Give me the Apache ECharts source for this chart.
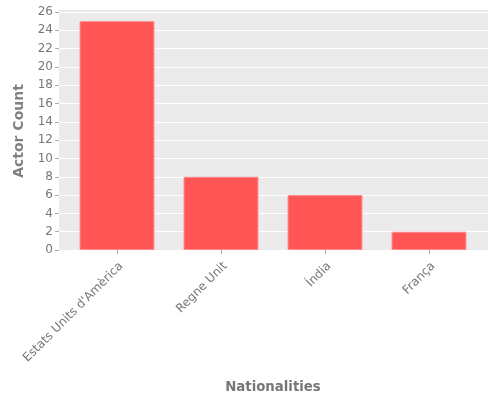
<!DOCTYPE html>
<html><head><meta charset="utf-8">
<script src="https://cdn.jsdelivr.net/npm/echarts@6/dist/echarts.min.js"></script>
<style>html,body{margin:0;padding:0;background:#fff}#c{width:500px;height:400px}</style>
</head><body><div id="c"></div>
<script>
const categories = ["Estats Units d'Amèrica", "Regne Unit", "Índia", "França"];
const actorCounts = [25, 8, 6, 2];
const yTicks = { min: 0, max: 26, interval: 2 };
const chart = echarts.init(document.getElementById('c'));
chart.setOption({
  animation: false,
  textStyle: { fontFamily: 'DejaVu Sans' },
  grid: [
    { left: 59, right: 12, top: 10, bottom: 150, show: true, backgroundColor: '#EBEBEB', borderWidth: 0, containLabel: false, outerBoundsMode: 'none' },
    { left: 59, right: 12, top: 12, bottom: 150, show: false, containLabel: false, outerBoundsMode: 'none' },
    { left: 65, right: 19, top: 12, bottom: 150, show: false, containLabel: false, outerBoundsMode: 'none' }
  ],
  xAxis: [
    { gridIndex: 0, type: 'value', show: false, min: 0, max: 1 },
    { gridIndex: 1, type: 'value', show: false, min: 0, max: 1 },
    {
      gridIndex: 2, type: 'category', data: categories,
      name: 'Nationalities', nameLocation: 'middle', nameGap: 131,
      nameTextStyle: { fontSize: 13.3, fontWeight: 'bold', color: '#777' },
      axisLine: { show: false },
      axisTick: { show: true, alignWithLabel: true, length: 4, lineStyle: { color: '#aaa' } },
      axisLabel: { rotate: 45, fontSize: 12, color: '#777', margin: 10, verticalAlign: 'top' },
      splitLine: { show: false }
    }
  ],
  yAxis: [
    { gridIndex: 0, type: 'value', show: false, min: 0, max: 1 },
    {
      gridIndex: 1, type: 'value', min: yTicks.min, max: yTicks.max, interval: yTicks.interval,
      name: 'Actor Count', nameLocation: 'middle', nameGap: 32,
      nameTextStyle: { fontSize: 14, fontWeight: 'bold', color: '#808080' },
      axisLine: { show: false },
      axisTick: { show: true, length: 4, lineStyle: { color: '#aaa' } },
      axisLabel: { fontSize: 12, color: '#777', margin: 6 },
      splitLine: { show: true, lineStyle: { color: '#fff', width: 1 } }
    },
    { gridIndex: 2, type: 'value', show: false, min: yTicks.min, max: yTicks.max, interval: yTicks.interval, splitLine: { show: false } }
  ],
  series: [{
    type: 'bar', xAxisIndex: 2, yAxisIndex: 2, data: actorCounts, barWidth: '72%',
    itemStyle: { color: '#FF5555', borderColor: '#FF8A8A', borderWidth: 1 }
  }]
});
</script></body></html>
